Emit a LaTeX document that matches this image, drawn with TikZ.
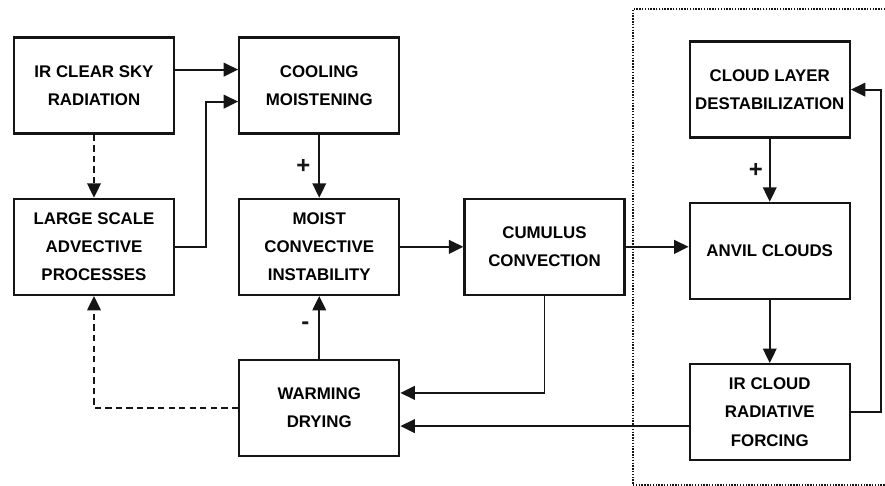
\documentclass[tikz,border=0pt]{standalone}
\usepackage{fontspec}
\setmainfont{Liberation Sans}
\usepackage{xcolor}
\usepackage{tikz}
\usetikzlibrary{positioning,arrows.meta}
\definecolor{inkBlack}{HTML}{151515}
\tikzset{
  process/.style={rectangle,draw=inkBlack,line width=1.6pt,fill=white,
    minimum width=4cm,minimum height=2.4cm,inner sep=2pt,align=center,
    font=\fontsize{12}{20}\selectfont\bfseries},
  arrow/.style={-{Triangle[length=3.6mm,width=3.4mm]},line width=1.3pt,draw=inkBlack},
  feedback/.style={arrow,dash pattern=on 4.5pt off 3pt},
  signlabel/.style={font=\fontsize{17}{17}\selectfont\bfseries,text=inkBlack},
  region/.style={draw=inkBlack,line width=1.4pt,dash pattern=on 1pt off 1pt}
}
\begin{document}
\begin{tikzpicture}[node distance=1.575cm and 1.575cm]
\useasboundingbox (0,0) rectangle (22.125,-12.15);
\node[process] (skyrad) at (2.35,-2.14) {IR CLEAR SKY\\RADIATION};
\node[process, right=of skyrad] (cooling) {COOLING\\MOISTENING};
\node[process, below=of skyrad] (advect) {LARGE SCALE\\ADVECTIVE\\PROCESSES};
\node[process, below=of cooling] (moist) {MOIST\\CONVECTIVE\\INSTABILITY};
\node[process, below=of moist] (warming) {WARMING\\DRYING};
\node[process, right=of moist] (cumulus) {CUMULUS\\CONVECTION};
\node[process, right=of cumulus, yshift=-0.1cm] (anvil) {ANVIL CLOUDS};
\node[process, above=of anvil] (cloudlayer) {CLOUD LAYER\\DESTABILIZATION};
\node[process, below=of anvil] (irforce) {IR CLOUD\\RADIATIVE\\FORCING};

% dotted frame round the cloud processes
\draw[region] (22.2,-0.225) -| (15.825,-12.125) -- (22.2,-12.125);

\draw[arrow] ([yshift=0.4cm]skyrad.east) -- ([yshift=0.4cm]skyrad.east -| cooling.west);
\draw[arrow] (advect.east) -- ++(0.775,0) |- ([yshift=-0.4cm]cooling.west);
\draw[feedback] (skyrad) -- (advect);
\draw[arrow] (cooling) -- node[signlabel, xshift=-0.4cm] {+} (moist);
\draw[arrow] (warming) -- node[signlabel, xshift=-0.35cm, yshift=0.05cm] {-} (moist);
\draw[arrow] (moist.east) -- (moist.east -| cumulus.west);
\draw[arrow] (cumulus.south) |- ([yshift=0.38cm]warming.east);
\draw[arrow] ([yshift=-0.35cm]irforce.west) -- ([yshift=-0.35cm]irforce.west -| warming.east);
\draw[feedback] (warming.west) -| (advect.south);
\draw[arrow] (cumulus.east) -- (cumulus.east -| anvil.west);
\draw[arrow] (cloudlayer) -- node[signlabel, xshift=-0.35cm] {+} (anvil);
\draw[arrow] (anvil) -- (irforce);
\draw[arrow] (irforce.east) -- ++(0.75,0) |- (cloudlayer.east);
\end{tikzpicture}
\end{document}
